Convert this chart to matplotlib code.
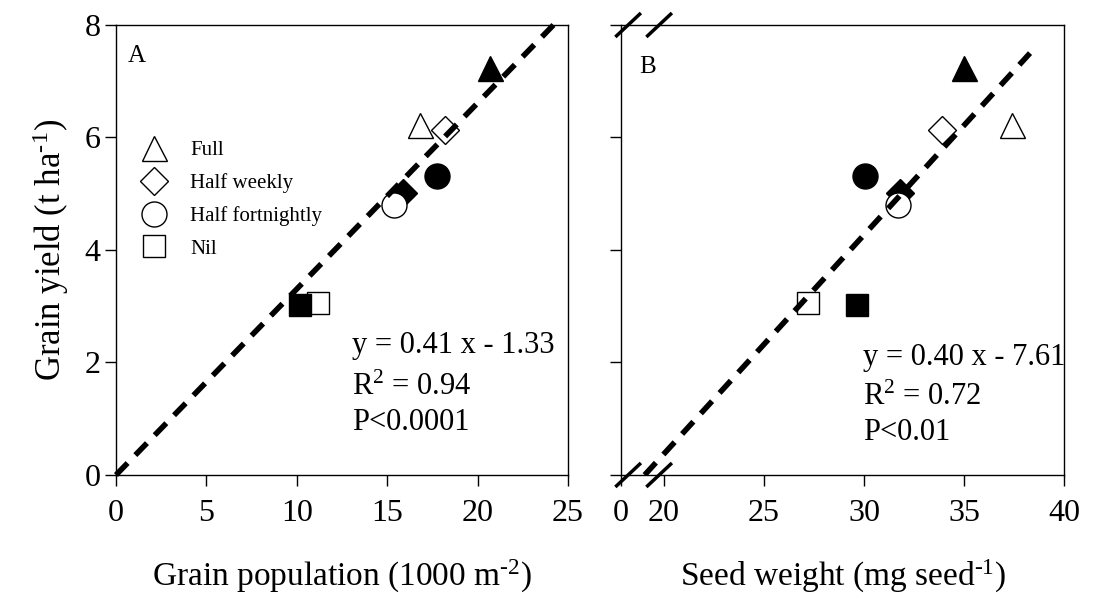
import matplotlib
matplotlib.use("Agg")
import matplotlib.pyplot as plt
from matplotlib.lines import Line2D

plt.rcParams['font.family'] = ['Liberation Serif', 'DejaVu Serif']
plt.rcParams['mathtext.fontset'] = 'custom'
plt.rcParams['mathtext.rm'] = 'Liberation Serif'
plt.rcParams['mathtext.it'] = 'Liberation Serif:italic'

# treatments, marker per treatment
treatments = ['Full', 'Half weekly', 'Half fortnightly', 'Nil']
markers = ['^', 'D', 'o', 's']
msizes = [18, 14, 18, 16]

# grain yield (t/ha), open and filled symbols
yield_open = [6.22, 6.13, 4.80, 3.06]
yield_fill = [7.23, 5.01, 5.32, 3.03]

# panel A: grain population (1000 m-2)
pop_open = [16.8, 18.2, 15.4, 11.2]
pop_fill = [20.7, 15.9, 17.74, 10.2]

# panel B: seed weight (mg/seed)
sw_open = [37.4, 33.9, 31.7, 27.2]
sw_fill = [35.0, 31.8, 30.05, 29.65]

# regression lines (end points)
lineA_x = [0, 24.2]
lineA_y = [0, 8.0]
lineB_x = [19.03, 38.3]
lineB_y = [0, 7.5]

statsA = ['y = 0.41 x - 1.33', 'R$^{2}$ = 0.94', 'P<0.0001']
statsB = ['y = 0.40 x - 7.61', 'R$^{2}$ = 0.72', 'P<0.01']

fig = plt.figure(figsize=(10.93, 6.05), dpi=100)
axA = fig.add_axes([0.1061, 0.2149, 0.4135, 0.7438])
axB = fig.add_axes([0.5682, 0.2149, 0.4053, 0.7438])


def draw_points(ax, xo, xf):
    for i in range(len(treatments)):
        ax.plot(xo[i], yield_open[i], markers[i], ms=msizes[i], mfc='white',
                mec='black', mew=1, zorder=3)
        ax.plot(xf[i], yield_fill[i], markers[i], ms=msizes[i], mfc='black',
                mec='black', mew=1, zorder=3)


def style(ax):
    ax.set_ylim(0, 8)
    ax.set_yticks([0, 2, 4, 6, 8])
    ax.tick_params(direction='out', length=8, width=1, labelsize=23)
    ax.tick_params(axis='x', pad=9)
    ax.tick_params(axis='y', pad=3)
    for s in ax.spines.values():
        s.set_linewidth(1)


def stats(ax, lines, x, ys):
    for t, y in zip(lines, ys):
        ax.text(x, y, t, transform=ax.transAxes, fontsize=22, va='baseline')


# Panel A
draw_points(axA, pop_open, pop_fill)
axA.plot(lineA_x, lineA_y, color='black', lw=4, ls=(0, (3, 2)), zorder=4,
         clip_on=False)
style(axA)
axA.set_xlim(0, 25)
axA.set_xticks([0, 5, 10, 15, 20, 25])
axA.set_xlabel('Grain population (1000 m$^{\\text{-}2}$)', fontsize=24, labelpad=22)
axA.set_ylabel('Grain yield (t ha$^{\\text{-}1}$)', fontsize=25, labelpad=10)
axA.text(0.025, 0.955, 'A', transform=axA.transAxes, fontsize=18, va='top')
stats(axA, statsA, 0.522, [0.271, 0.178, 0.10])

handles = [Line2D([], [], ls='none', marker=markers[i], ms=msizes[i],
                  mfc='white', mec='black', mew=1) for i in range(4)]
axA.legend(handles, treatments, loc='upper left', bbox_to_anchor=(0.005, 0.775),
           frameon=False, fontsize=15, handletextpad=0.75, labelspacing=0.62,
           borderaxespad=0.3)

# Panel B
draw_points(axB, sw_open, sw_fill)
axB.plot(lineB_x, lineB_y, color='black', lw=4, ls=(0, (3, 2)), zorder=4)
style(axB)
axB.set_xlim(17.85, 40)
axB.set_xticks([17.85, 20, 25, 30, 35, 40])
axB.set_xticklabels(['0', '20', '25', '30', '35', '40'])
axB.set_yticklabels([])
axB.set_xlabel('Seed weight (mg seed$^{\\text{-}1}$)', fontsize=24, labelpad=22)
axB.text(0.04, 0.93, 'B', transform=axB.transAxes, fontsize=18, va='top')
stats(axB, statsB, 0.546, [0.244, 0.156, 0.078])

# axis break marks
for y0 in (0.0, 1.0):
    for x0 in (0.016, 0.086):
        axB.plot([x0 - 0.026, x0 + 0.026], [y0 - 0.024, y0 + 0.024],
                 color='black', lw=2.5, transform=axB.transAxes,
                 clip_on=False, zorder=5)

fig.savefig('out.png', dpi=100)
